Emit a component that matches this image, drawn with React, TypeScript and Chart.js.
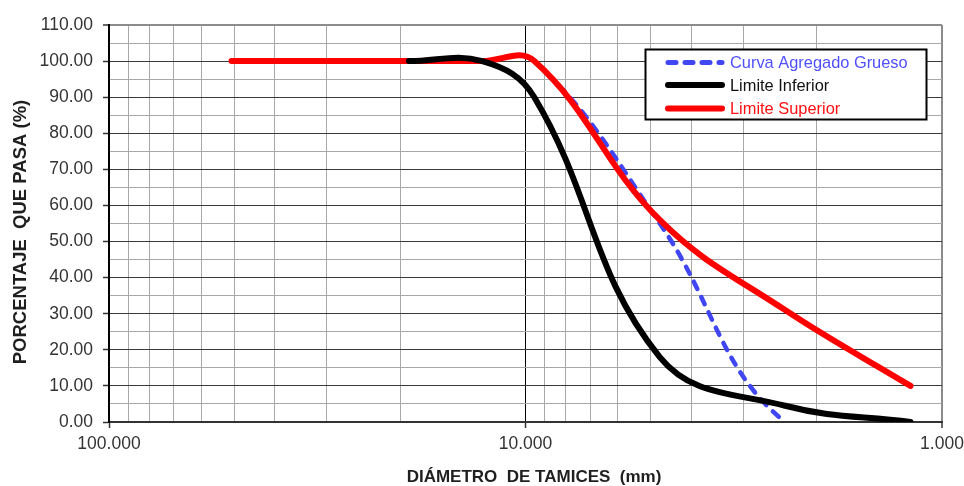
import { useEffect, useRef } from "react";
import { Chart, registerables } from "chart.js";

Chart.register(...registerables);

// Sieve openings (mm) and percent passing for each curve
const sieveSizes = [50.8, 38.1, 25.4, 19.05, 12.7, 9.525, 4.76, 2.38, 1.19];
const curvaGrueso: (number | null)[] = [100, 100, 100, 100, 100, 100, 55, 0, 0];
const limiteInferior: (number | null)[] = [null, null, null, 100, 100, 90, 18, 4.5, 0];
const limiteSuperior: (number | null)[] = [100, 100, 100, 100, 100, 100, 56, 31, 10];

const seriesNames = ["Curva Agregado Grueso", "Limite Inferior", "Limite Superior"];
const seriesColors = ["#3f46f2", "#000000", "#ff0000"];
const legendTextColors = ["#4f50ff", "#111111", "#ff1010"];

// Log axis grid positions and the ones that carry a label
const xGridValues = [1, 2, 3, 4, 5, 6, 7, 8, 9, 10, 20, 30, 40, 50, 60, 70, 80, 90, 100];
const xLabelValues = [1, 10, 100];
const yMin = 0;
const yMax = 110;
const yStep = 5;
const yLabelStep = 10;

const xTitle = "DIÁMETRO  DE TAMICES  (mm)";
const yTitle = "PORCENTAJE  QUE PASA (%)";

const FONT = "'Liberation Sans', Arial, Helvetica, sans-serif";
const BLUE_DASH = [8, 9];

function toPoints(values: (number | null)[]) {
  return sieveSizes
    .map((x, i) => ({ x, y: values[i] }))
    .filter((p) => p.y !== null) as { x: number; y: number }[];
}

const overlayPlugin = {
  id: "overlay",
  afterDraw(chart: Chart) {
    const ctx = chart.ctx;
    ctx.save();

    // axis titles
    ctx.fillStyle = "#1f1f1f";
    ctx.font = `bold 17px ${FONT}`;
    ctx.textAlign = "center";
    ctx.textBaseline = "middle";
    ctx.fillText(xTitle, 534, 477);
    ctx.save();
    ctx.translate(21, 232);
    ctx.rotate(-Math.PI / 2);
    ctx.font = `bold 18.5px ${FONT}`;
    ctx.fillText(yTitle, 0, 0);
    ctx.restore();

    // legend box
    const bx = 645.5, by = 49.5, bw = 281, bh = 70;
    ctx.fillStyle = "#ffffff";
    ctx.fillRect(bx, by, bw, bh);
    ctx.strokeStyle = "#000000";
    ctx.lineWidth = 2;
    ctx.strokeRect(bx, by, bw, bh);

    const rows = [62.5, 85, 108.5];
    ctx.font = `16.4px ${FONT}`;
    ctx.textAlign = "left";
    rows.forEach((y, i) => {
      ctx.beginPath();
      ctx.lineCap = "round";
      ctx.strokeStyle = seriesColors[i];
      ctx.lineWidth = i === 0 ? 5 : 6;
      ctx.setLineDash(i === 0 ? BLUE_DASH : []);
      ctx.moveTo(668, y);
      ctx.lineTo(722, y);
      ctx.stroke();
      ctx.setLineDash([]);
      ctx.fillStyle = legendTextColors[i];
      ctx.fillText(seriesNames[i], 730, y + 1);
    });

    ctx.restore();
  },
};

export default function App() {
  const canvasRef = useRef<HTMLCanvasElement | null>(null);

  useEffect(() => {
    if (!canvasRef.current) return;
    const chart = new Chart(canvasRef.current, {
      type: "line",
      data: {
        datasets: [
          {
            label: seriesNames[1],
            data: toPoints(limiteInferior),
            borderColor: seriesColors[1],
            borderWidth: 6,
            order: 0,
          },
          {
            label: seriesNames[2],
            data: toPoints(limiteSuperior),
            borderColor: seriesColors[2],
            borderWidth: 6,
            order: 1,
          },
          {
            label: seriesNames[0],
            data: toPoints(curvaGrueso),
            borderColor: seriesColors[0],
            borderWidth: 4.5,
            borderDash: BLUE_DASH,
            clip: 0,
            order: 2,
            // the stretch lying on the 0 % axis sits under the axis line
            segment: {
              borderColor: (s: any) =>
                s.p0.parsed.y === 0 && s.p1.parsed.y === 0 ? "rgba(0,0,0,0)" : seriesColors[0],
            },
          },
        ],
      },
      options: {
        animation: false,
        responsive: false,
        events: [],
        elements: {
          point: { radius: 0 },
          line: {
            tension: 0.4,
            borderCapStyle: "round",
            borderJoinStyle: "round",
            fill: false,
          },
        },
        layout: { padding: { top: 25, right: 22, left: 0, bottom: 0 } },
        plugins: {
          legend: { display: false },
          tooltip: { enabled: false },
        },
        scales: {
          x: {
            type: "logarithmic",
            reverse: true,
            min: 1,
            max: 100,
            afterBuildTicks: (scale: any) => {
              scale.ticks = xGridValues.map((v) => ({ value: v }));
            },
            afterFit: (scale: any) => {
              scale.height = 64;
            },
            ticks: {
              autoSkip: false,
              maxRotation: 0,
              minRotation: 0,
              padding: 6,
              color: "#333333",
              font: { family: FONT, size: 17.5 },
              callback: (v: any) => (xLabelValues.includes(Number(v)) ? Number(v).toFixed(3) : ""),
            },
            grid: {
              drawTicks: true,
              tickLength: 6,
              color: (c: any) => {
                const v = c.tick?.value;
                if (v === 100) return "rgba(0,0,0,0)";
                if (v === 10) return "#000000";
                if (v === 1) return "#8c8c8c";
                return "#a8a8a8";
              },
              lineWidth: (c: any) => (c.tick?.value === 1 ? 2 : 1),
              tickColor: (c: any) =>
                xLabelValues.includes(c.tick?.value) ? "#333333" : "rgba(0,0,0,0)",
              tickWidth: 1.5,
            },
            border: { color: "#333333", width: 2 },
          },
          y: {
            type: "linear",
            min: yMin,
            max: yMax,
            afterFit: (scale: any) => {
              scale.width = 109;
            },
            ticks: {
              stepSize: yStep,
              autoSkip: false,
              padding: 10,
              color: "#333333",
              font: { family: FONT, size: 17.5 },
              callback: (v: any) => (Number(v) % yLabelStep === 0 ? Number(v).toFixed(2) : ""),
            },
            grid: {
              drawTicks: true,
              tickLength: 6,
              color: (c: any) => {
                const v = c.tick?.value;
                if (v === yMin) return "rgba(0,0,0,0)";
                if (v === yMax) return "#8c8c8c";
                return v % yLabelStep === 0 ? "#3a3a3a" : "#a8a8a8";
              },
              lineWidth: (c: any) => (c.tick?.value === yMax ? 2 : 1),
              tickColor: (c: any) =>
                c.tick?.value % yLabelStep === 0 ? "#333333" : "rgba(0,0,0,0)",
              tickWidth: 1.5,
            },
            border: { color: "#000000", width: 2 },
          },
        },
      },
      plugins: [overlayPlugin],
    } as any);
    return () => chart.destroy();
  }, []);

  return (
    <div style={{ position: "fixed", left: 0, top: 0, width: 964, height: 486, background: "#fff" }}>
      <canvas ref={canvasRef} width={964} height={486} />
    </div>
  );
}
